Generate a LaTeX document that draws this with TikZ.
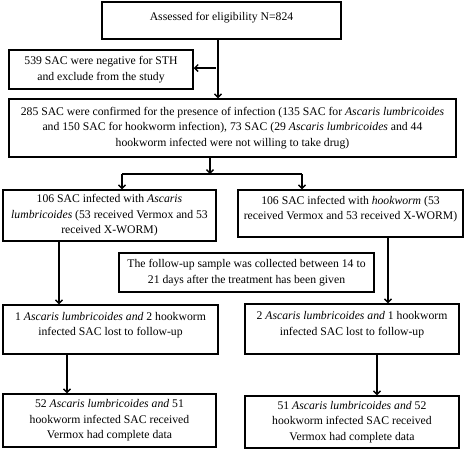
\documentclass[tikz,border=0pt]{standalone}
\usepackage{fontspec}
\setmainfont{Liberation Serif}
\usetikzlibrary{arrows.meta}
\begin{document}
\begin{tikzpicture}[x=1pt,y=-1pt,
  box/.style={draw=black,line width=1.5pt,inner sep=0pt,align=center,
    font=\fontsize{11.7}{15.5}\selectfont},
  arr/.style={line width=1.3pt,-{Straight Barb[length=3.5pt,width=7pt]}},
  conn/.style={line width=1.3pt}]
\useasboundingbox (0,0) rectangle (472,450);
\node[box,minimum width=239pt,text height=18pt,text depth=19pt] (b1) at (221.5,20.5) {Assessed for eligibility N=824};
\node[box,minimum width=184pt,minimum height=39pt] (b2) at (101,69.5) {539 SAC were negative for STH\\and exclude from the study};
\node[box,minimum width=447pt,minimum height=58pt] (b3) at (232.5,128) {285 SAC were confirmed for the presence of infection (135 SAC for \textit{Ascaris lumbricoides}\\and 150 SAC for hookworm infection), 73 SAC (29 \textit{Ascaris lumbricoides} and 44\\hookworm infected were not willing to take drug)};
\node[box,minimum width=213pt,minimum height=51pt] (b4) at (109.5,215.5) {106 SAC infected with \textit{Ascaris}\\\textit{lumbricoides} (53 received Vermox and 53\\received X-WORM)};
\node[box,minimum width=225pt,minimum height=47pt,text depth=11pt] (b5) at (350.5,213.5) {106 SAC infected with \textit{hookworm} (53\\received Vermox and 53 received X-WORM)};
\node[box,minimum width=255pt,minimum height=39pt] (b6) at (246.5,272.5) {The follow-up sample was collected between 14 to\\21 days after the treatment has been given};
\node[box,minimum width=215pt,minimum height=49pt,text depth=11pt] (b7) at (110.5,329.5) {1 \textit{Ascaris lumbricoides and} 2 hookworm\\infected SAC lost to follow-up};
\node[box,minimum width=214pt,minimum height=50pt,text depth=11pt] (b8) at (352,329) {2 \textit{Ascaris lumbricoides and} 1 hookworm\\infected SAC lost to follow-up};
\node[box,minimum width=213pt,minimum height=53pt] (b9) at (109.5,420.5) {52 \textit{Ascaris lumbricoides and} 51\\hookworm infected SAC received\\Vermox had complete data};
\node[box,minimum width=214pt,minimum height=52pt] (b10) at (352,422) {51 \textit{Ascaris lumbricoides and} 52\\hookworm infected SAC received\\Vermox had complete data};
\coordinate (vx) at (218,0);
\coordinate (j1) at (216,68);
\coordinate (j2) at (210,174);
\coordinate (jl) at (122,174);
\coordinate (jr) at (302,174);
\coordinate (xl1) at (59,0);
\coordinate (xr1) at (388,0);
\coordinate (xl2) at (67,0);
\coordinate (xr2) at (377,0);
\draw[arr] (b1.south -| vx) -- (b3.north -| vx);
\draw[arr] (j1) -- (b2.east |- j1);
\draw[arr] (b3.south -| j2) -- (j2);
\draw[conn] (jl) -- (jr);
\draw[arr] (jl) -- (b4.north -| jl);
\draw[arr] (jr) -- (b5.north -| jr);
\draw[arr] (b4.south -| xl1) -- (b7.north -| xl1);
\draw[arr] (b5.south -| xr1) -- (b8.north -| xr1);
\draw[arr] (b7.south -| xl2) -- (b9.north -| xl2);
\draw[arr] (b8.south -| xr2) -- (b10.north -| xr2);
\end{tikzpicture}
\end{document}
